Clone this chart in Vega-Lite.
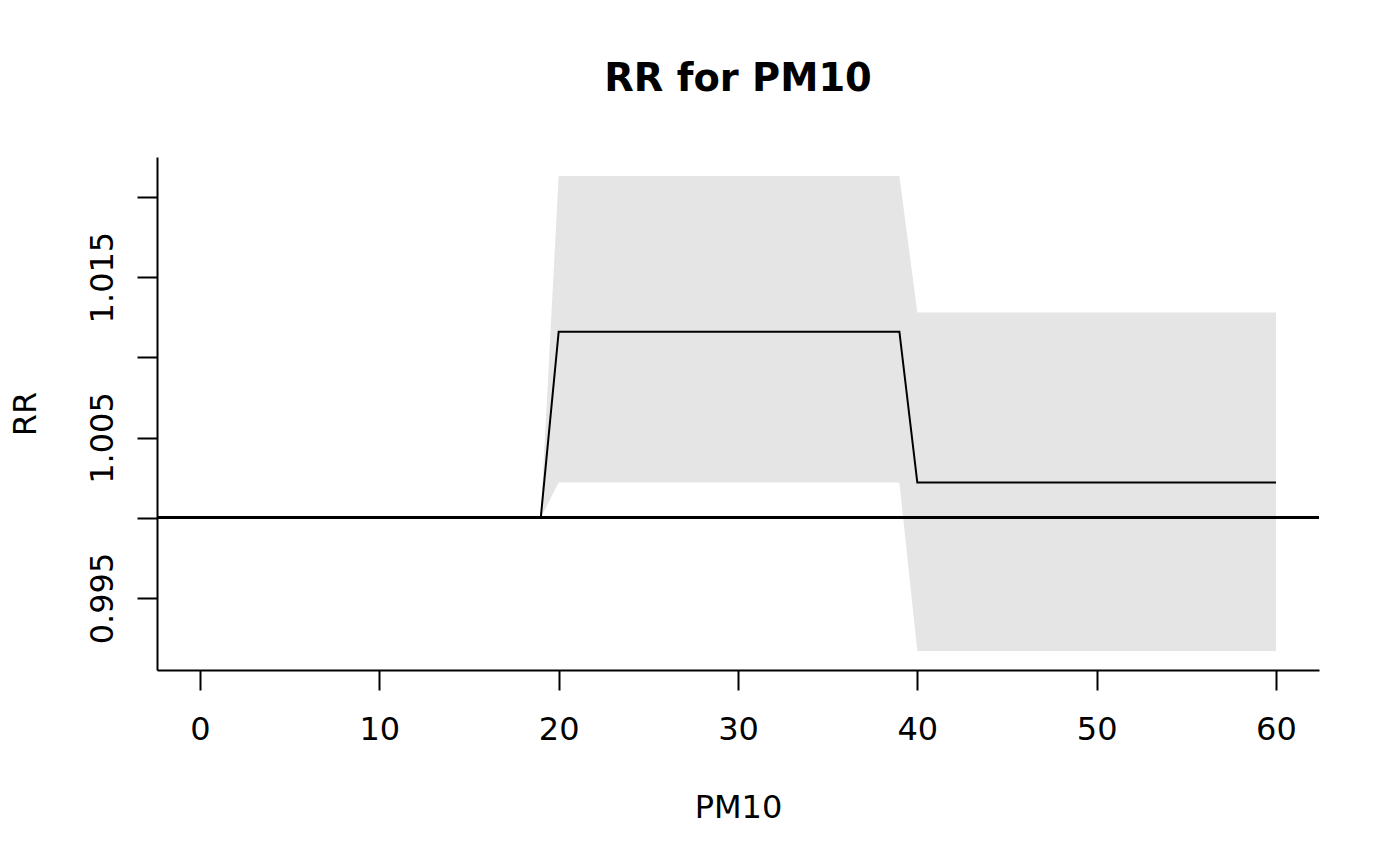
{
  "$schema": "https://vega.github.io/schema/vega-lite/v6.json",
  "width": 1162,
  "height": 513,
  "autosize": {"type": "none"},
  "padding": {"left": 157, "top": 157, "right": 81, "bottom": 196},
  "background": "white",
  "title": {
    "text": "RR for PM10",
    "font": "DejaVu Sans",
    "fontSize": 38.4,
    "fontWeight": "bold",
    "color": "black",
    "anchor": "middle",
    "frame": "group",
    "baseline": "alphabetic",
    "offset": 28
  },
  "config": {
    "view": {"stroke": null},
    "font": "DejaVu Sans",
    "axis": {
      "grid": false,
      "domainColor": "black",
      "domainWidth": 2,
      "tickColor": "black",
      "tickWidth": 2,
      "tickSize": 20,
      "labelFont": "DejaVu Sans",
      "labelFontSize": 32,
      "labelColor": "black",
      "titleFont": "DejaVu Sans",
      "titleFontSize": 32,
      "titleFontWeight": "normal",
      "titleColor": "black",
      "labelOverlap": false,
      "labelFlush": false
    }
  },
  "data": {
    "values": [
      {"pm10": 0, "rr": 1.0, "lo": 1.0, "hi": 1.0},
      {"pm10": 1, "rr": 1.0, "lo": 1.0, "hi": 1.0},
      {"pm10": 2, "rr": 1.0, "lo": 1.0, "hi": 1.0},
      {"pm10": 3, "rr": 1.0, "lo": 1.0, "hi": 1.0},
      {"pm10": 4, "rr": 1.0, "lo": 1.0, "hi": 1.0},
      {"pm10": 5, "rr": 1.0, "lo": 1.0, "hi": 1.0},
      {"pm10": 6, "rr": 1.0, "lo": 1.0, "hi": 1.0},
      {"pm10": 7, "rr": 1.0, "lo": 1.0, "hi": 1.0},
      {"pm10": 8, "rr": 1.0, "lo": 1.0, "hi": 1.0},
      {"pm10": 9, "rr": 1.0, "lo": 1.0, "hi": 1.0},
      {"pm10": 10, "rr": 1.0, "lo": 1.0, "hi": 1.0},
      {"pm10": 11, "rr": 1.0, "lo": 1.0, "hi": 1.0},
      {"pm10": 12, "rr": 1.0, "lo": 1.0, "hi": 1.0},
      {"pm10": 13, "rr": 1.0, "lo": 1.0, "hi": 1.0},
      {"pm10": 14, "rr": 1.0, "lo": 1.0, "hi": 1.0},
      {"pm10": 15, "rr": 1.0, "lo": 1.0, "hi": 1.0},
      {"pm10": 16, "rr": 1.0, "lo": 1.0, "hi": 1.0},
      {"pm10": 17, "rr": 1.0, "lo": 1.0, "hi": 1.0},
      {"pm10": 18, "rr": 1.0, "lo": 1.0, "hi": 1.0},
      {"pm10": 19, "rr": 1.0, "lo": 1.0, "hi": 1.0},
      {"pm10": 20, "rr": 1.0116, "lo": 1.0022, "hi": 1.0213},
      {"pm10": 21, "rr": 1.0116, "lo": 1.0022, "hi": 1.0213},
      {"pm10": 22, "rr": 1.0116, "lo": 1.0022, "hi": 1.0213},
      {"pm10": 23, "rr": 1.0116, "lo": 1.0022, "hi": 1.0213},
      {"pm10": 24, "rr": 1.0116, "lo": 1.0022, "hi": 1.0213},
      {"pm10": 25, "rr": 1.0116, "lo": 1.0022, "hi": 1.0213},
      {"pm10": 26, "rr": 1.0116, "lo": 1.0022, "hi": 1.0213},
      {"pm10": 27, "rr": 1.0116, "lo": 1.0022, "hi": 1.0213},
      {"pm10": 28, "rr": 1.0116, "lo": 1.0022, "hi": 1.0213},
      {"pm10": 29, "rr": 1.0116, "lo": 1.0022, "hi": 1.0213},
      {"pm10": 30, "rr": 1.0116, "lo": 1.0022, "hi": 1.0213},
      {"pm10": 31, "rr": 1.0116, "lo": 1.0022, "hi": 1.0213},
      {"pm10": 32, "rr": 1.0116, "lo": 1.0022, "hi": 1.0213},
      {"pm10": 33, "rr": 1.0116, "lo": 1.0022, "hi": 1.0213},
      {"pm10": 34, "rr": 1.0116, "lo": 1.0022, "hi": 1.0213},
      {"pm10": 35, "rr": 1.0116, "lo": 1.0022, "hi": 1.0213},
      {"pm10": 36, "rr": 1.0116, "lo": 1.0022, "hi": 1.0213},
      {"pm10": 37, "rr": 1.0116, "lo": 1.0022, "hi": 1.0213},
      {"pm10": 38, "rr": 1.0116, "lo": 1.0022, "hi": 1.0213},
      {"pm10": 39, "rr": 1.0116, "lo": 1.0022, "hi": 1.0213},
      {"pm10": 40, "rr": 1.0022, "lo": 0.9917, "hi": 1.0128},
      {"pm10": 41, "rr": 1.0022, "lo": 0.9917, "hi": 1.0128},
      {"pm10": 42, "rr": 1.0022, "lo": 0.9917, "hi": 1.0128},
      {"pm10": 43, "rr": 1.0022, "lo": 0.9917, "hi": 1.0128},
      {"pm10": 44, "rr": 1.0022, "lo": 0.9917, "hi": 1.0128},
      {"pm10": 45, "rr": 1.0022, "lo": 0.9917, "hi": 1.0128},
      {"pm10": 46, "rr": 1.0022, "lo": 0.9917, "hi": 1.0128},
      {"pm10": 47, "rr": 1.0022, "lo": 0.9917, "hi": 1.0128},
      {"pm10": 48, "rr": 1.0022, "lo": 0.9917, "hi": 1.0128},
      {"pm10": 49, "rr": 1.0022, "lo": 0.9917, "hi": 1.0128},
      {"pm10": 50, "rr": 1.0022, "lo": 0.9917, "hi": 1.0128},
      {"pm10": 51, "rr": 1.0022, "lo": 0.9917, "hi": 1.0128},
      {"pm10": 52, "rr": 1.0022, "lo": 0.9917, "hi": 1.0128},
      {"pm10": 53, "rr": 1.0022, "lo": 0.9917, "hi": 1.0128},
      {"pm10": 54, "rr": 1.0022, "lo": 0.9917, "hi": 1.0128},
      {"pm10": 55, "rr": 1.0022, "lo": 0.9917, "hi": 1.0128},
      {"pm10": 56, "rr": 1.0022, "lo": 0.9917, "hi": 1.0128},
      {"pm10": 57, "rr": 1.0022, "lo": 0.9917, "hi": 1.0128},
      {"pm10": 58, "rr": 1.0022, "lo": 0.9917, "hi": 1.0128},
      {"pm10": 59, "rr": 1.0022, "lo": 0.9917, "hi": 1.0128},
      {"pm10": 60, "rr": 1.0022, "lo": 0.9917, "hi": 1.0128}
    ]
  },
  "layer": [
    {
      "mark": {"type": "area", "color": "#E5E5E5", "opacity": 1},
      "encoding": {
        "x": {
          "field": "pm10",
          "type": "quantitative",
          "scale": {"domain": [-2.4, 62.4], "nice": false, "zero": false},
          "axis": {
            "title": "PM10",
            "values": [0, 10, 20, 30, 40, 50, 60],
            "format": "d",
            "labelBaseline": "alphabetic",
            "labelPadding": 49,
            "titleBaseline": "alphabetic",
            "titlePadding": 72
          }
        },
        "y": {
          "field": "lo",
          "type": "quantitative",
          "scale": {"domain": [0.990516, 1.022484], "nice": false, "zero": false},
          "axis": {
            "title": "RR",
            "values": [0.995, 1.0, 1.005, 1.01, 1.015, 1.02],
            "labelExpr": "indexof(['0.995','1.005','1.015'], format(datum.value, '.3f')) >= 0 ? format(datum.value, '.3f') : ''",
            "labelAngle": -90,
            "labelAlign": "center",
            "labelBaseline": "alphabetic",
            "labelPadding": 25,
            "titleAngle": -90,
            "titleBaseline": "alphabetic",
            "titlePadding": 51
          }
        },
        "y2": {"field": "hi"}
      }
    },
    {
      "mark": {"type": "rule", "color": "black", "strokeWidth": 2},
      "encoding": {"y": {"datum": 1.0, "type": "quantitative"}}
    },
    {
      "mark": {"type": "line", "color": "black", "strokeWidth": 2},
      "encoding": {
        "x": {"field": "pm10", "type": "quantitative"},
        "y": {"field": "rr", "type": "quantitative"}
      }
    }
  ]
}
